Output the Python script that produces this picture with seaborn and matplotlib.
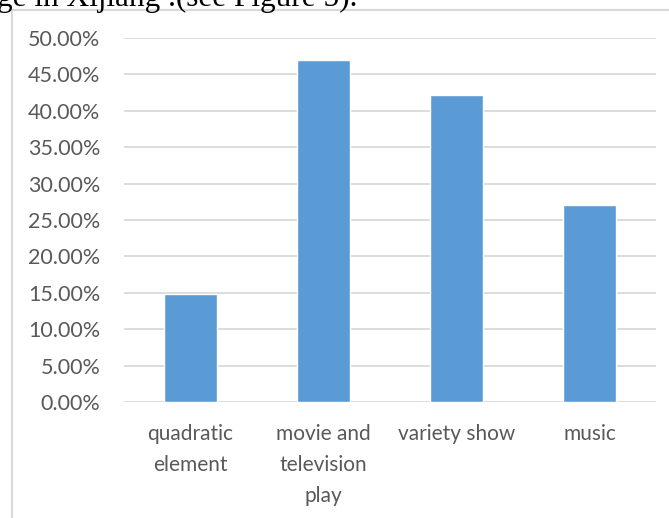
import matplotlib
matplotlib.use('Agg')
import matplotlib.pyplot as plt
import seaborn as sns
import pandas as pd
from matplotlib.ticker import PercentFormatter
from matplotlib.patches import Rectangle

# data
categories = ['quadratic\nelement', 'movie and\ntelevision\nplay', 'variety show', 'music']
shares = [0.148, 0.470, 0.422, 0.271]
y_ticks = [0, 0.05, 0.10, 0.15, 0.20, 0.25, 0.30, 0.35, 0.40, 0.45, 0.50]

df = pd.DataFrame({'category': categories, 'share': shares})

sns.set_style('white')
plt.rcParams['font.family'] = ['Lato', 'DejaVu Sans']

fig = plt.figure(figsize=(6.69, 5.18), dpi=100)
ax = fig.add_axes([124 / 669, 1 - 402 / 518, 532 / 669, 364 / 518])

sns.barplot(data=df, x='category', y='share', color='#5b9bd5', saturation=1,
            width=0.4, ax=ax, zorder=3)

ax.set_ylim(0, 0.5)
ax.set_yticks(y_ticks)
ax.yaxis.set_major_formatter(PercentFormatter(1.0, decimals=2))
ax.grid(axis='y', color='#d9d9d9', linewidth=1.3, zorder=0)
ax.set_axisbelow(True)
for s in ax.spines.values():
    s.set_visible(False)
ax.set_xlabel('')
ax.set_ylabel('')
ax.tick_params(axis='y', length=0, pad=17, labelsize=15.5, labelcolor='#595959')
ax.tick_params(axis='x', length=0, pad=16, labelsize=15, labelcolor='#595959')
for lbl in ax.get_xticklabels():
    lbl.set_linespacing(1.68)

# chart frame border
fig.patches.append(Rectangle((12 / 669, -0.1), 1.0, 1 - 10 / 518 + 0.1,
                             transform=fig.transFigure, fill=False,
                             edgecolor='#d9d9d9', linewidth=1.5))

# cropped paragraph text above the chart
fig.text(-0.005, 1 - 6 / 518, 'ge in Xijiang .(see Figure 5).', family='Liberation Serif',
         fontsize=22.5, color='black', ha='left', va='baseline')

fig.savefig('out.png', dpi=100)
